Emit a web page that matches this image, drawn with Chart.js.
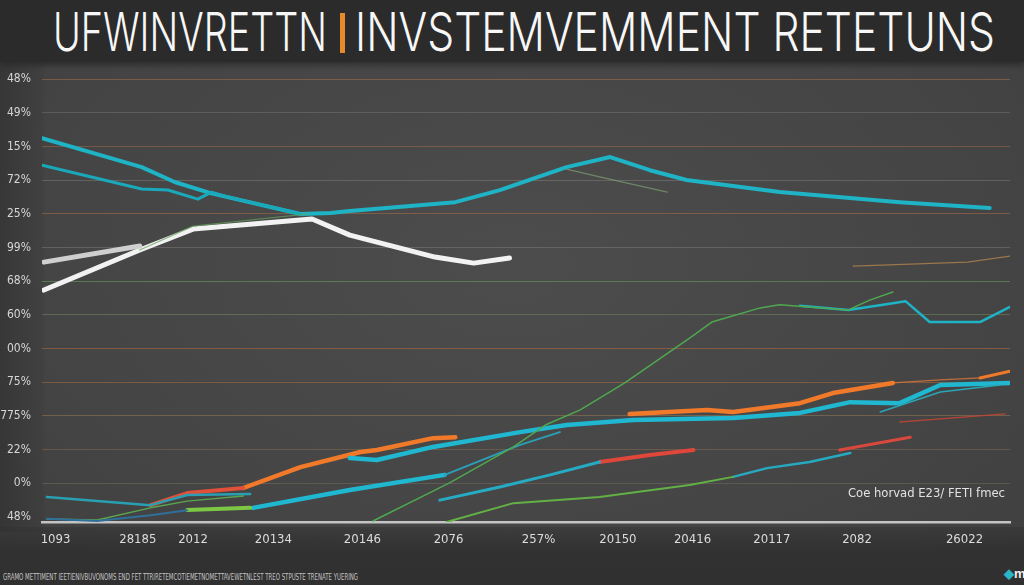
<!DOCTYPE html>
<html lang="en">
<head>
    <meta charset="UTF-8">
    <title>Investment Returns</title>
    <script src="https://cdn.jsdelivr.net/npm/chart.js"></script>
    <style>
        html, body {
            margin: 0;
            padding: 0;
            width: 1024px;
            height: 585px;
            overflow: hidden;
        }
        body {
            position: relative;
            background: radial-gradient(ellipse at 50% 45%, #4c4c4c 0%, #464646 55%, #3f3f3f 100%);
            font-family: "Liberation Sans Narrow", "DejaVu Sans Condensed", sans-serif;
        }
        /* dark title band */
        .header {
            position: absolute;
            left: 0; top: 0;
            width: 1024px; height: 62px;
            background: #2b2b2b;
            box-shadow: 0 3px 6px rgba(0,0,0,0.35);
        }
        /* darker strip behind the y labels */
        .left-strip {
            position: absolute;
            left: 0; top: 62px;
            width: 44px; height: 470px;
            background: linear-gradient(to right, rgba(40,40,40,0.45), rgba(40,40,40,0.1));
        }
        .title-part {
            position: absolute;
            top: 5px;
            font-family: Inter, "Open Sans", sans-serif;
            font-weight: 300;
            font-size: 54px;
            line-height: 54px;
            color: #f7f7f7;
            white-space: nowrap;
            transform-origin: left top;
        }
        .title-bar {
            position: absolute;
            left: 340px; top: 13px;
            width: 5px; height: 40px;
            background: #e8892b;
        }
        /* bottom band */
        .footer {
            position: absolute;
            left: 0; top: 527px;
            width: 1024px; height: 58px;
            background: linear-gradient(to bottom, rgba(48,48,48,0.4) 0px, #323232 22px, #303030 100%);
        }
        .footer-text {
            position: absolute;
            left: 3px; top: 572px;
            font-size: 9px;
            line-height: 10px;
            color: #c4c4c4;
            white-space: nowrap;
            transform-origin: left top;
        }
        .logo {
            position: absolute;
            left: 1004px; top: 566px;
            font-family: "Liberation Sans", sans-serif;
            font-weight: bold;
            font-size: 13px;
            color: #f0f0f0;
            white-space: nowrap;
        }
        .logo span { color: #2bb3c6; }
        .note {
            position: absolute;
            left: 848px; top: 485px;
            font-size: 13px;
            line-height: 15px;
            color: #e2e2e2;
            white-space: nowrap;
            transform-origin: left top;
        }
        #chart {
            position: absolute;
            left: 0; top: 0;
        }
    </style>
</head>
<body>

    <div class="header"></div>
    <div class="left-strip"></div>
    <div class="footer"></div>

    <div class="title-part" id="titleLeft" style="left:53px">UFWINVRETTN</div>
    <div class="title-bar"></div>
    <div class="title-part" id="titleRight" style="left:355px">INVSTEMVEMMENT RETETUNS</div>

    <div class="footer-text" id="footerText">GRAMO METTIMENT IEETIENIVBUVONOMS END FET TTRIRETEMCOTIEMETNOMETTAVEWETNLEST TREO STPUSTE TRENATE YUERING</div>
    <div class="logo"><span>&#9670;</span>mar</div>

    <canvas id="chart" width="1024" height="585"></canvas>
    <div class="note" id="note">Coe horvad E23/ FETI fmec</div>

    <script>
        // Axis labels (y: bottom to top)
        const yLabels = ['48%', '0%', '22%', '775%', '75%', '00%', '60%', '68%', '99%', '25%', '72%', '15%', '49%', '48%'];
        const xLabels = ['1093', '28185', '2012', '20134', '20146', '2076', '257%', '20150', '20416', '20117', '2082', '26022'];
        const xTickPos = [1.4, 9.9, 15.6, 23.9, 33.1, 42.0, 51.3, 59.5, 67.2, 75.4, 84.2, 95.3];

        // Series, [period, level] pairs
        const tealTop = [[0, 11.25], [10.3, 10.39], [13.7, 9.95], [17.4, 9.62], [26.7, 9.0], [29.8, 9.03], [31.8, 9.09], [42.7, 9.35], [47.3, 9.71], [54.2, 10.39], [58.7, 10.69], [62.8, 10.3], [66.6, 10.01], [76.2, 9.65], [88.6, 9.35], [97.9, 9.18]];
        const tealSecond = [[0, 10.45], [10.3, 9.74], [13.0, 9.71], [16.1, 9.44], [17.5, 9.65], [18.9, 9.53], [26.7, 9.0]];
        const tealBranch = [[54.2, 10.33], [57.6, 10.1], [64.6, 9.65]];
        const whiteMain = [[0.2, 6.74], [10.1, 7.93], [15.6, 8.55], [27.9, 8.85], [31.8, 8.37], [40.6, 7.72], [44.6, 7.54], [48.3, 7.69]];
        const whiteShort = [[0.2, 7.57], [10.1, 8.05]];
        const greenThinTop = [[10.1, 7.93], [15.6, 8.64], [27.5, 9.0]];
        const orangeTopRight = [[83.8, 7.45], [95.6, 7.57], [100, 7.75]];

        const redLeft = [[11.2, 0.35], [15.0, 0.71], [20.8, 0.86]];
        const orangeLeft = [[20.8, 0.86], [26.7, 1.48], [32.9, 1.93], [34.6, 1.99], [40.4, 2.34], [42.7, 2.37]];
        const orangeMid = [[60.7, 3.06], [68.7, 3.18], [71.4, 3.12], [78.3, 3.38], [81.7, 3.68], [87.9, 3.98]];
        const orangeThin = [[87.9, 3.98], [92.8, 4.07], [96.9, 4.13]];
        const orangeEnd = [[96.9, 4.13], [100, 4.33]];

        const tealUpper = [[31.8, 1.75], [34.6, 1.69], [40.4, 2.08], [49.4, 2.52], [54.2, 2.73], [61.1, 2.88], [71.4, 2.94], [78.3, 3.09], [83.5, 3.41], [88.6, 3.38], [92.8, 3.92], [100, 3.98]];
        const tealUpperThin = [[86.6, 3.12], [92.8, 3.71], [99, 3.92]];
        const tealLower = [[21.8, 0.27], [31.8, 0.8], [41.6, 1.25]];
        const tealLowerThin = [[41.6, 1.25], [49.4, 2.14], [53.5, 2.52]];
        const tealToRed = [[41.1, 0.5], [47.3, 0.89], [52.5, 1.25], [57.6, 1.63]];
        const redMid = [[57.6, 1.63], [62.8, 1.84], [67.3, 1.99]];
        const greenRise = [[34.2, -0.12], [42.1, 1.01], [48.7, 2.08], [52.0, 2.73], [55.6, 3.18], [60.2, 3.98], [66.9, 5.31], [69.2, 5.79], [74.2, 6.21], [76.2, 6.3], [83.3, 6.15], [85.5, 6.44], [87.9, 6.68]];
        const tealRight = [[78.3, 6.27], [83.3, 6.15], [87.9, 6.35], [89.2, 6.41], [91.7, 5.79], [96.9, 5.79], [100, 6.24]];
        const greenLow = [[41.8, -0.15], [48.7, 0.41], [57.6, 0.59], [66.9, 0.95], [71.4, 1.19]];
        const tealLow = [[71.4, 1.19], [74.9, 1.45], [79.3, 1.63], [83.5, 1.9]];
        const redRight = [[82.4, 1.99], [89.7, 2.37]];
        const redThin = [[88.6, 2.82], [99.5, 3.06]];

        const tealBottomLeft = [[0.5, 0.59], [11.2, 0.35], [15.0, 0.65], [21.5, 0.68]];
        const greenBottomLeft = [[0.5, -0.06], [5.7, -0.09], [11.2, 0.27], [15.0, 0.47], [20.8, 0.62]];
        const greenThick = [[15.0, 0.21], [21.5, 0.27]];
        const blueBottomLeft = [[0.5, -0.05], [5.7, -0.12], [11.2, 0.05], [15.0, 0.2]];

        // faint tinted grid lines, one per y label
        const gridTints = [
            'rgba(0,0,0,0)', 'rgba(140,130,110,0.35)', 'rgba(150,110,80,0.45)', 'rgba(170,130,90,0.45)',
            'rgba(180,110,60,0.5)', 'rgba(190,110,60,0.5)', 'rgba(120,150,100,0.45)', 'rgba(110,160,100,0.55)',
            'rgba(150,150,150,0.35)', 'rgba(190,120,70,0.45)', 'rgba(160,150,140,0.35)', 'rgba(190,120,70,0.4)',
            'rgba(150,150,150,0.3)', 'rgba(190,120,70,0.45)'
        ];

        const toPoints = arr => arr.map(p => ({ x: p[0], y: p[1] }));

        // helper for one line dataset
        const line = (data, color, width) => ({
            data: toPoints(data),
            borderColor: color,
            borderWidth: width,
            pointRadius: 0,
            tension: 0,
            borderCapStyle: 'round',
            borderJoinStyle: 'round',
            fill: false
        });

        const datasets = [
            line(greenThinTop, 'rgba(100,160,90,0.7)', 1.3),
            line(orangeTopRight, 'rgba(190,140,80,0.7)', 1.3),
            line(tealBranch, 'rgba(120,150,110,0.8)', 1.3),
            line(tealSecond, '#1aa9bb', 3),
            line(tealTop, '#1fb3c6', 4),
            line(whiteShort, '#cfcfcf', 5),
            line(whiteMain, '#f2f2f2', 5),

            line(blueBottomLeft, '#2f6f9a', 2),
            line(greenBottomLeft, '#5aa550', 1.5),
            line(tealBottomLeft, '#2a9fb2', 2.5),
            line(greenThick, '#7cc744', 4),
            line(greenRise, '#4fa84f', 1.5),
            line(greenLow, '#63b045', 2),
            line(tealLow, '#27a9c0', 2.5),
            line(tealRight, '#1fb3c6', 2.5),
            line(redThin, 'rgba(200,70,50,0.8)', 1.3),
            line(tealUpperThin, '#2aa6b6', 1.5),
            line(tealLowerThin, '#2a9fb6', 2),
            line(tealToRed, '#25acc4', 3),
            line(redMid, '#e0473a', 4),
            line(redRight, '#d9483c', 3),
            line(tealLower, '#1fb8d0', 4.5),
            line(tealUpper, '#1fb8d0', 4.5),
            line(redLeft, '#e0503a', 4),
            line(orangeLeft, '#f07a2a', 4.5),
            line(orangeMid, '#f07a2a', 4.5),
            line(orangeThin, 'rgba(220,120,60,0.8)', 1.3),
            line(orangeEnd, '#f07a2a', 3)
        ];

        const tickFont = '"Liberation Sans Narrow", "DejaVu Sans Condensed", sans-serif';

        new Chart(document.getElementById('chart').getContext('2d'), {
            type: 'line',
            data: { datasets: datasets },
            options: {
                responsive: false,
                animation: false,
                layout: { padding: { top: 49, right: 14, bottom: 0, left: 0 } },
                plugins: {
                    legend: { display: false },
                    tooltip: { enabled: false }
                },
                scales: {
                    x: {
                        type: 'linear',
                        min: 0,
                        max: 100,
                        afterBuildTicks: scale => { scale.ticks = xTickPos.map(v => ({ value: v })); },
                        afterFit: scale => { scale.height = 63; },
                        grid: { display: false, drawTicks: false },
                        border: { display: true, color: '#c4c4c4', width: 2.5 },
                        ticks: {
                            padding: 10,
                            color: '#dcdcdc',
                            font: { family: tickFont, size: 13 },
                            maxRotation: 0,
                            autoSkip: false,
                            callback: (value, i) => xLabels[i]
                        }
                    },
                    y: {
                        type: 'linear',
                        min: -0.15,
                        max: 13.9,
                        afterBuildTicks: scale => { scale.ticks = yLabels.map((_, i) => ({ value: i })); },
                        afterFit: scale => { scale.width = 42; },
                        grid: {
                            drawTicks: false,
                            lineWidth: 1,
                            color: ctx => gridTints[ctx.index] || 'rgba(150,150,150,0.3)'
                        },
                        border: { display: false },
                        ticks: {
                            padding: 11,
                            color: '#d6d6d6',
                            font: { family: tickFont, size: 12 },
                            callback: (value, i) => yLabels[i]
                        }
                    }
                }
            }
        });

        // squeeze the text blocks to the widths they take in the picture
        function fitWidth(id, target) {
            const el = document.getElementById(id);
            const w = el.getBoundingClientRect().width;
            if (w > 0) el.style.transform = 'scaleX(' + (target / w) + ')';
        }
        fitWidth('titleLeft', 274);
        fitWidth('titleRight', 640);
        fitWidth('footerText', 355);
        fitWidth('note', 157);
    </script>

</body>
</html>
